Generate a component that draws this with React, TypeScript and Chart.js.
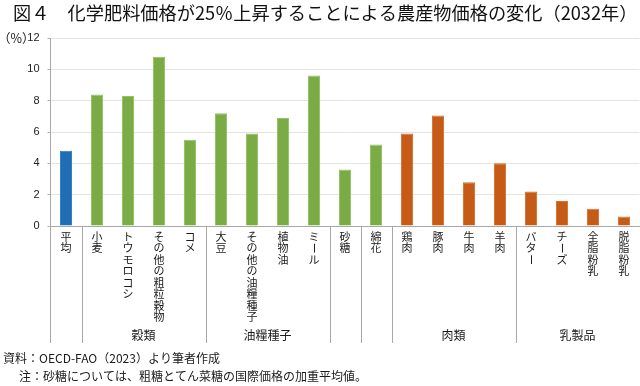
import React, { useEffect, useRef } from "react";
import { Chart, registerables } from "chart.js";

Chart.register(...registerables);

const titleText = "図４　化学肥料価格が25％上昇することによる農産物価格の変化（2032年）";
const unitLabel = "（%）";
const sourceNote = "資料：OECD-FAO（2023）より筆者作成";
const footNote = "注：砂糖については、粗糖とてん菜糖の国際価格の加重平均値。";

const categories = [
  "平均", "小麦", "トウモロコシ", "その他の粗粒穀物", "コメ",
  "大豆", "その他の油糧種子", "植物油", "ミール",
  "砂糖", "綿花",
  "鶏肉", "豚肉", "牛肉", "羊肉",
  "バター", "チーズ", "全脂粉乳", "脱脂粉乳",
];
const values = [4.8, 8.4, 8.3, 10.8, 5.5, 7.2, 5.9, 6.9, 9.6, 3.6, 5.2, 5.9, 7.05, 2.8, 4.0, 2.2, 1.6, 1.1, 0.6];
const categoryGroup = [
  "", "穀類", "穀類", "穀類", "穀類",
  "油糧種子", "油糧種子", "油糧種子", "油糧種子",
  "", "",
  "肉類", "肉類", "肉類", "肉類",
  "乳製品", "乳製品", "乳製品", "乳製品",
];
const barKind = [
  "average", "crop", "crop", "crop", "crop", "crop", "crop", "crop", "crop", "crop", "crop",
  "livestock", "livestock", "livestock", "livestock", "livestock", "livestock", "livestock", "livestock",
];
const yTicks = [0, 2, 4, 6, 8, 10, 12];

const fillColors: Record<string, string> = { average: "#1f6db3", crop: "#7aab44", livestock: "#c55b16" };
const edgeColors: Record<string, string> = { average: "#2a7cc4", crop: "#93c163", livestock: "#d9702c" };

const CJK = '"Noto Sans CJK JP", "Noto Sans", sans-serif';
const LATIN = '"Liberation Sans", Arial, sans-serif';

const overlay = {
  id: "overlay",
  afterDraw(chart: any) {
    const ctx = chart.ctx as CanvasRenderingContext2D;
    const area = chart.chartArea;
    const xs = chart.scales.x;
    ctx.save();
    // separators
    ctx.strokeStyle = "#a8a8a8";
    ctx.lineWidth = 1;
    const sepBottom = 343;
    const drawSep = (x: number) => {
      ctx.beginPath();
      ctx.moveTo(Math.round(x) + 0.5, area.bottom);
      ctx.lineTo(Math.round(x) + 0.5, sepBottom);
      ctx.stroke();
    };
    drawSep(area.left - 0.5);
    for (let i = 0; i < categories.length - 1; i++) {
      const g1 = categoryGroup[i], g2 = categoryGroup[i + 1];
      if (g1 !== g2 || g1 === "") {
        drawSep((xs.getPixelForValue(i) + xs.getPixelForValue(i + 1)) / 2);
      }
    }
    // vertical category labels
    ctx.fillStyle = "#1a1a1a";
    ctx.font = `11px ${CJK}`;
    ctx.textAlign = "center";
    ctx.textBaseline = "middle";
    const pitch = 11.5;
    const top0 = 231;
    categories.forEach((label, i) => {
      const cx = xs.getPixelForValue(i);
      Array.from(label).forEach((ch, j) => {
        const cy = top0 + j * pitch + pitch / 2;
        if (ch === "ー") {
          ctx.save();
          ctx.translate(cx, cy);
          ctx.rotate(Math.PI / 2);
          ctx.fillText(ch, 0, 0);
          ctx.restore();
        } else {
          ctx.fillText(ch, cx, cy);
        }
      });
    });
    // group labels
    const seen: string[] = [];
    categoryGroup.forEach((g) => {
      if (g && !seen.includes(g)) seen.push(g);
    });
    ctx.font = `12px ${CJK}`;
    seen.forEach((g) => {
      const idx = categoryGroup.map((v, i) => (v === g ? i : -1)).filter((i) => i >= 0);
      const cx = (xs.getPixelForValue(idx[0]) + xs.getPixelForValue(idx[idx.length - 1])) / 2;
      ctx.fillText(g, cx, 335);
    });
    // unit
    ctx.textAlign = "left";
    ctx.font = `12.5px ${CJK}`;
    ctx.fillText(unitLabel, -2, 38);
    // title
    ctx.font = `18.2px ${CJK}`;
    ctx.textBaseline = "middle";
    ctx.fillStyle = "#111";
    ctx.fillText(titleText, 13, 13);
    // notes
    ctx.font = `12px ${CJK}`;
    ctx.fillStyle = "#1a1a1a";
    ctx.fillText(sourceNote, 3, 358);
    ctx.fillText(footNote, 19, 376);
    ctx.restore();
  },
};

export default function App() {
  const ref = useRef<HTMLCanvasElement | null>(null);
  useEffect(() => {
    if (!ref.current) return;
    const chart = new Chart(ref.current, {
      type: "bar",
      data: {
        labels: categories,
        datasets: [
          {
            data: values,
            backgroundColor: barKind.map((k) => fillColors[k]),
            borderColor: barKind.map((k) => edgeColors[k]),
            borderWidth: 1,
            categoryPercentage: 1,
            barPercentage: 0.39,
          },
        ],
      },
      options: {
        responsive: false,
        animation: false,
        devicePixelRatio: 1,
        layout: { padding: { top: 38, right: 0.5, bottom: 0, left: 0 } },
        plugins: { legend: { display: false }, tooltip: { enabled: false }, title: { display: false } },
        scales: {
          x: {
            type: "category",
            grid: { display: false },
            ticks: { display: false },
            border: { display: true, color: "#a8a8a8" },
            afterFit: (s: any) => {
              s.height = 160;
            },
          },
          y: {
            min: 0,
            max: 12,
            afterBuildTicks: (s: any) => {
              s.ticks = yTicks.map((v) => ({ value: v }));
            },
            ticks: { font: { size: 11, family: LATIN }, color: "#222", padding: 8 },
            grid: { color: "#e4e4e4", tickLength: 3, tickColor: "#b0b0b0" },
            border: { display: true, color: "#a8a8a8" },
            afterFit: (s: any) => {
              s.width = 50.5;
            },
          },
        },
      },
      plugins: [overlay],
    });
    return () => chart.destroy();
  }, []);
  return (
    <div style={{ position: "fixed", left: 0, top: 0, width: 640, height: 386, background: "#fff" }}>
      <canvas ref={ref} width={640} height={386} style={{ width: 640, height: 386, display: "block" }} />
    </div>
  );
}
